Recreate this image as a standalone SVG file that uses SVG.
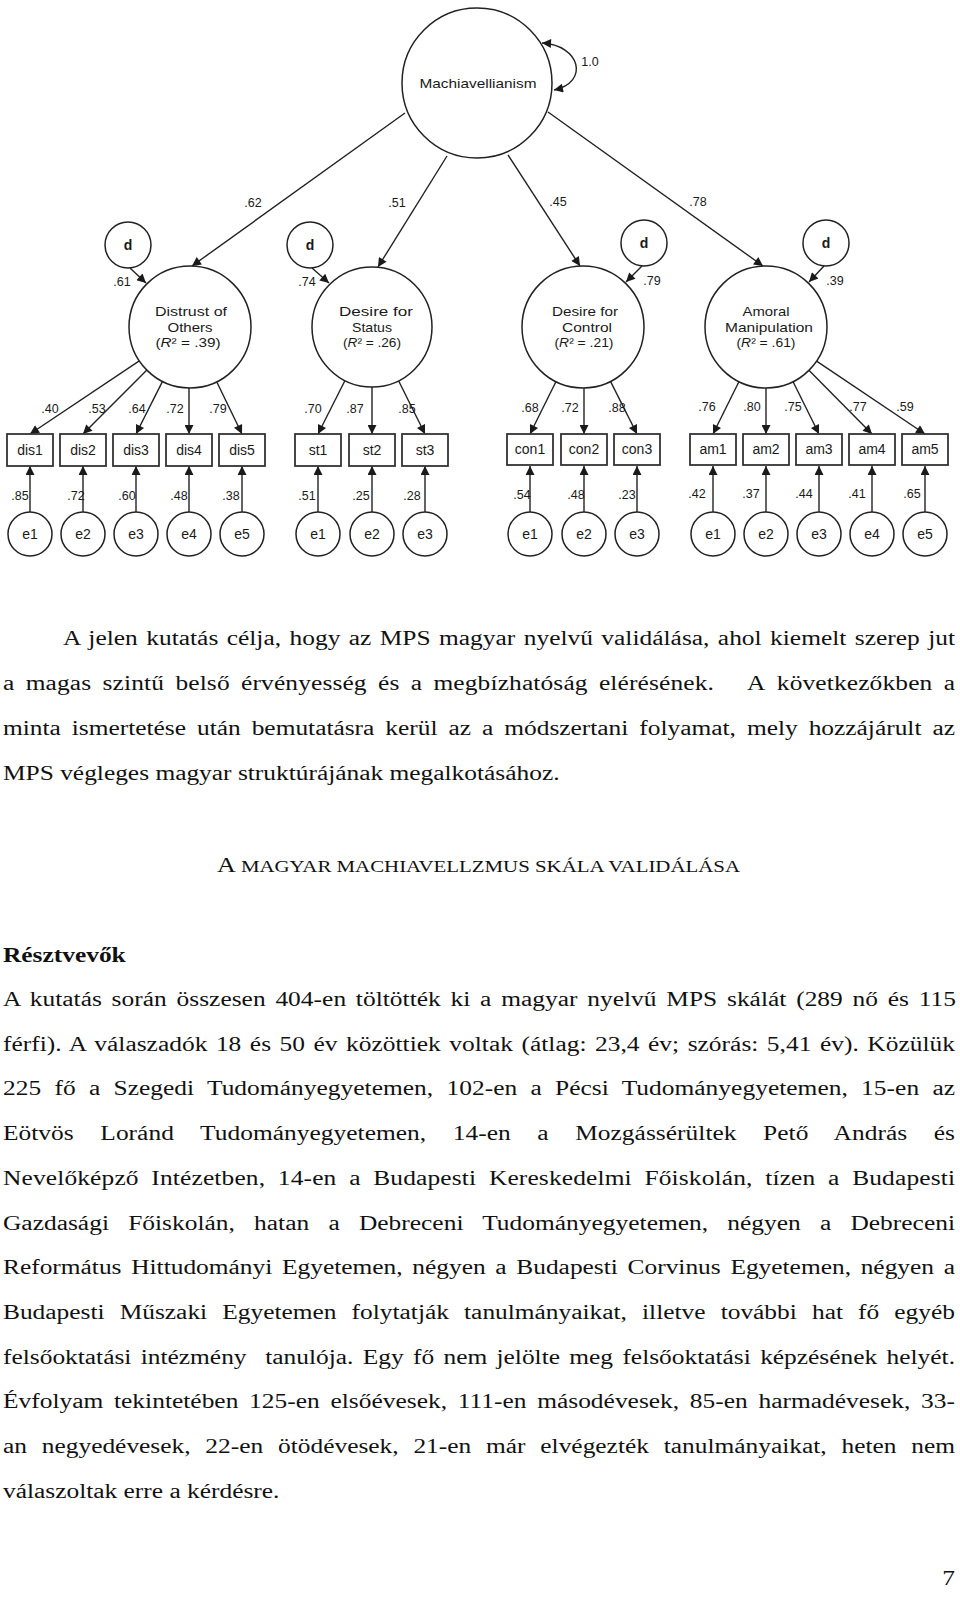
<svg xmlns="http://www.w3.org/2000/svg" width="960" height="1599" viewBox="0 0 960 1599">
<style>
.nd{fill:#fff;stroke:#222;stroke-width:1.5}
.bx{fill:#fff;stroke:#333;stroke-width:1.8}
.cn{fill:none;stroke:#222;stroke-width:1.4;marker-end:url(#ah)}
.lb{font-family:"Liberation Sans",Arial,sans-serif;fill:#1a1a1a;text-anchor:middle}
.big{font-size:13.5px}
.sm{font-size:14px}
.num{font-size:12.5px}
.t{font-family:"Liberation Serif","Times New Roman",serif;font-size:20px;fill:#111}
</style>
<defs>
<marker id="ah" viewBox="0 0 10 10" refX="10" refY="5" markerWidth="11" markerHeight="9" markerUnits="userSpaceOnUse" orient="auto-start-reverse">
<path d="M0,0 L10,5 L0,10 z" fill="#1a1a1a"/>
</marker>
</defs>
<rect width="960" height="1599" fill="#fff"/>

<g id="connectors">
<path class="cn" d="M542,43 C580,45 590,82 554,90" marker-start="url(#ah)"/>
<path class="cn" d="M405,113 L192,266"/>
<path class="cn" d="M447,156 L378,267"/>
<path class="cn" d="M508,155 L580,266"/>
<path class="cn" d="M548,112 L763,266"/>
<path class="cn" d="M130,268 L146,283"/>
<path class="cn" d="M312,268 L329,283"/>
<path class="cn" d="M642,266 L626,282"/>
<path class="cn" d="M824,266 L809,282"/>
<path class="cn" d="M139.3,360.9 L30,434"/>
<path class="cn" d="M146.9,370.1 L83,434"/>
<path class="cn" d="M162.5,381.4 L136,434"/>
<path class="cn" d="M189,388 L189,434"/>
<path class="cn" d="M216.7,381.8 L242,434"/>
<path class="cn" d="M345,380.5 L318,434"/>
<path class="cn" d="M372,387 L372,434"/>
<path class="cn" d="M398.6,380.8 L425,434"/>
<path class="cn" d="M555.9,381.7 L530,434"/>
<path class="cn" d="M584,388 L584,434"/>
<path class="cn" d="M610.5,381.4 L637,434"/>
<path class="cn" d="M738.9,381.7 L713,434"/>
<path class="cn" d="M766,388 L766,434"/>
<path class="cn" d="M793.1,381.7 L819,434"/>
<path class="cn" d="M808.9,370.3 L872,434"/>
<path class="cn" d="M816.6,361.1 L925,434"/>
<path class="cn" d="M30,512 L30,466"/>
<path class="cn" d="M83,512 L83,466"/>
<path class="cn" d="M136,512 L136,466"/>
<path class="cn" d="M189,512 L189,466"/>
<path class="cn" d="M242,512 L242,466"/>
<path class="cn" d="M318,512 L318,466"/>
<path class="cn" d="M372,512 L372,466"/>
<path class="cn" d="M425,512 L425,466"/>
<path class="cn" d="M530,512 L530,466"/>
<path class="cn" d="M584,512 L584,466"/>
<path class="cn" d="M637,512 L637,466"/>
<path class="cn" d="M713,512 L713,466"/>
<path class="cn" d="M766,512 L766,466"/>
<path class="cn" d="M819,512 L819,466"/>
<path class="cn" d="M872,512 L872,466"/>
<path class="cn" d="M925,512 L925,466"/>
</g>

<g id="coef" class="lb num">
<text x="590" y="66">1.0</text>
<text x="253" y="207">.62</text>
<text x="397" y="207">.51</text>
<text x="558" y="206">.45</text>
<text x="698" y="206">.78</text>
<text x="122" y="286">.61</text>
<text x="307" y="286">.74</text>
<text x="652" y="285">.79</text>
<text x="835" y="285">.39</text>
<text x="50" y="413">.40</text>
<text x="97" y="413">.53</text>
<text x="137" y="413">.64</text>
<text x="175" y="413">.72</text>
<text x="218" y="413">.79</text>
<text x="313" y="413">.70</text>
<text x="355" y="413">.87</text>
<text x="407" y="413">.85</text>
<text x="530" y="412">.68</text>
<text x="570" y="412">.72</text>
<text x="617" y="412">.88</text>
<text x="707" y="411">.76</text>
<text x="752" y="411">.80</text>
<text x="793" y="411">.75</text>
<text x="858" y="411">.77</text>
<text x="905" y="411">.59</text>
<text x="20" y="500">.85</text>
<text x="76" y="500">.72</text>
<text x="127" y="500">.60</text>
<text x="179" y="500">.48</text>
<text x="231" y="500">.38</text>
<text x="307" y="500">.51</text>
<text x="361" y="500">.25</text>
<text x="412" y="500">.28</text>
<text x="522" y="499">.54</text>
<text x="576" y="499">.48</text>
<text x="627" y="499">.23</text>
<text x="697" y="498">.42</text>
<text x="751" y="498">.37</text>
<text x="804" y="498">.44</text>
<text x="857" y="498">.41</text>
<text x="912" y="498">.65</text>
</g>

<g id="mach"><circle class="nd" cx="477" cy="83" r="75"/><text class="lb big" x="478" y="88" textLength="117" lengthAdjust="spacingAndGlyphs">Machiavellianism</text></g>

<g id="distrust"><circle class="nd" cx="190" cy="327" r="61"/>
<text class="lb big" x="191" y="316" textLength="72" lengthAdjust="spacingAndGlyphs">Distrust of</text>
<text class="lb big" x="190" y="332" textLength="45" lengthAdjust="spacingAndGlyphs">Others</text>
<text class="lb big" x="188" y="347" textLength="65" lengthAdjust="spacingAndGlyphs">(<tspan font-style="italic">R</tspan>² = .39)</text></g>
<g id="status"><circle class="nd" cx="372" cy="327" r="60"/>
<text class="lb big" x="376" y="316" textLength="74" lengthAdjust="spacingAndGlyphs">Desire for</text>
<text class="lb big" x="372" y="332" textLength="40" lengthAdjust="spacingAndGlyphs">Status</text>
<text class="lb big" x="372" y="347" textLength="58" lengthAdjust="spacingAndGlyphs">(<tspan font-style="italic">R</tspan>² = .26)</text></g>
<g id="control"><circle class="nd" cx="583" cy="327" r="61"/>
<text class="lb big" x="585" y="316" textLength="66" lengthAdjust="spacingAndGlyphs">Desire for</text>
<text class="lb big" x="587" y="332" textLength="50" lengthAdjust="spacingAndGlyphs">Control</text>
<text class="lb big" x="584" y="347" textLength="59" lengthAdjust="spacingAndGlyphs">(<tspan font-style="italic">R</tspan>² = .21)</text></g>
<g id="amoral"><circle class="nd" cx="766" cy="327" r="61"/>
<text class="lb big" x="766" y="316" textLength="47" lengthAdjust="spacingAndGlyphs">Amoral</text>
<text class="lb big" x="769" y="332" textLength="88" lengthAdjust="spacingAndGlyphs">Manipulation</text>
<text class="lb big" x="766" y="347" textLength="59" lengthAdjust="spacingAndGlyphs">(<tspan font-style="italic">R</tspan>² = .61)</text></g>

<g id="d1"><circle class="nd" cx="128" cy="245" r="23"/><text class="lb sm" x="128" y="250" font-weight="bold">d</text></g>
<g id="d2"><circle class="nd" cx="310" cy="245" r="23"/><text class="lb sm" x="310" y="250" font-weight="bold">d</text></g>
<g id="d3"><circle class="nd" cx="644" cy="243" r="23"/><text class="lb sm" x="644" y="248" font-weight="bold">d</text></g>
<g id="d4"><circle class="nd" cx="826" cy="243" r="23"/><text class="lb sm" x="826" y="248" font-weight="bold">d</text></g>

<g id="dis1"><rect class="bx" x="7" y="434" width="46" height="32"/><text class="lb sm" x="30" y="455">dis1</text></g>
<g id="dis2"><rect class="bx" x="60" y="434" width="46" height="32"/><text class="lb sm" x="83" y="455">dis2</text></g>
<g id="dis3"><rect class="bx" x="113" y="434" width="46" height="32"/><text class="lb sm" x="136" y="455">dis3</text></g>
<g id="dis4"><rect class="bx" x="166" y="434" width="46" height="32"/><text class="lb sm" x="189" y="455">dis4</text></g>
<g id="dis5"><rect class="bx" x="219" y="434" width="46" height="32"/><text class="lb sm" x="242" y="455">dis5</text></g>
<g id="st1"><rect class="bx" x="295" y="434" width="46" height="32"/><text class="lb sm" x="318" y="455">st1</text></g>
<g id="st2"><rect class="bx" x="349" y="434" width="46" height="32"/><text class="lb sm" x="372" y="455">st2</text></g>
<g id="st3"><rect class="bx" x="402" y="434" width="46" height="32"/><text class="lb sm" x="425" y="455">st3</text></g>
<g id="con1"><rect class="bx" x="507" y="434" width="46" height="31"/><text class="lb sm" x="530" y="454">con1</text></g>
<g id="con2"><rect class="bx" x="561" y="434" width="46" height="31"/><text class="lb sm" x="584" y="454">con2</text></g>
<g id="con3"><rect class="bx" x="614" y="434" width="46" height="31"/><text class="lb sm" x="637" y="454">con3</text></g>
<g id="am1"><rect class="bx" x="690" y="434" width="46" height="31"/><text class="lb sm" x="713" y="454">am1</text></g>
<g id="am2"><rect class="bx" x="743" y="434" width="46" height="31"/><text class="lb sm" x="766" y="454">am2</text></g>
<g id="am3"><rect class="bx" x="796" y="434" width="46" height="31"/><text class="lb sm" x="819" y="454">am3</text></g>
<g id="am4"><rect class="bx" x="849" y="434" width="46" height="31"/><text class="lb sm" x="872" y="454">am4</text></g>
<g id="am5"><rect class="bx" x="902" y="434" width="46" height="31"/><text class="lb sm" x="925" y="454">am5</text></g>

<g id="e_dis1"><circle class="nd" cx="30" cy="534" r="22"/><text class="lb sm" x="30" y="539">e1</text></g>
<g id="e_dis2"><circle class="nd" cx="83" cy="534" r="22"/><text class="lb sm" x="83" y="539">e2</text></g>
<g id="e_dis3"><circle class="nd" cx="136" cy="534" r="22"/><text class="lb sm" x="136" y="539">e3</text></g>
<g id="e_dis4"><circle class="nd" cx="189" cy="534" r="22"/><text class="lb sm" x="189" y="539">e4</text></g>
<g id="e_dis5"><circle class="nd" cx="242" cy="534" r="22"/><text class="lb sm" x="242" y="539">e5</text></g>
<g id="e_st1"><circle class="nd" cx="318" cy="534" r="22"/><text class="lb sm" x="318" y="539">e1</text></g>
<g id="e_st2"><circle class="nd" cx="372" cy="534" r="22"/><text class="lb sm" x="372" y="539">e2</text></g>
<g id="e_st3"><circle class="nd" cx="425" cy="534" r="22"/><text class="lb sm" x="425" y="539">e3</text></g>
<g id="e_con1"><circle class="nd" cx="530" cy="534" r="22"/><text class="lb sm" x="530" y="539">e1</text></g>
<g id="e_con2"><circle class="nd" cx="584" cy="534" r="22"/><text class="lb sm" x="584" y="539">e2</text></g>
<g id="e_con3"><circle class="nd" cx="637" cy="534" r="22"/><text class="lb sm" x="637" y="539">e3</text></g>
<g id="e_am1"><circle class="nd" cx="713" cy="534" r="22"/><text class="lb sm" x="713" y="539">e1</text></g>
<g id="e_am2"><circle class="nd" cx="766" cy="534" r="22"/><text class="lb sm" x="766" y="539">e2</text></g>
<g id="e_am3"><circle class="nd" cx="819" cy="534" r="22"/><text class="lb sm" x="819" y="539">e3</text></g>
<g id="e_am4"><circle class="nd" cx="872" cy="534" r="22"/><text class="lb sm" x="872" y="539">e4</text></g>
<g id="e_am5"><circle class="nd" cx="925" cy="534" r="22"/><text class="lb sm" x="925" y="539">e5</text></g>

<text class="t" x="217" y="872" textLength="523" lengthAdjust="spacingAndGlyphs">A <tspan font-size="16px">MAGYAR MACHIAVELLZMUS SKÁLA VALIDÁLÁSA</tspan></text>

<g id="bodytext" class="t" transform="scale(1.27,1)">
<text x="49.6" y="645" word-spacing="1.6" textLength="702.4" lengthAdjust="spacing">A jelen kutatás célja, hogy az MPS magyar nyelvű validálása, ahol kiemelt szerep jut</text>
<text x="2.36" y="690" word-spacing="3.78" textLength="749.6" lengthAdjust="spacing">a magas szintű belső érvényesség és a megbízhatóság elérésének.<tspan dx="26">A</tspan> következőkben a</text>
<text x="2.36" y="735" word-spacing="3.65" textLength="749.6" lengthAdjust="spacing">minta ismertetése után bemutatásra kerül az a módszertani folyamat, mely hozzájárult az</text>
<text x="2.36" y="780">MPS végleges magyar struktúrájának megalkotásához.</text>
<text x="2.36" y="962" font-weight="bold">Résztvevők</text>
<text x="2.36" y="1006" word-spacing="2.66" textLength="750.4" lengthAdjust="spacing">A kutatás során összesen 404-en töltötték ki a magyar nyelvű MPS skálát (289 nő és 115</text>
<text x="2.36" y="1051" word-spacing="1.65" textLength="749.6" lengthAdjust="spacing">férfi). A válaszadók 18 és 50 év közöttiek voltak (átlag: 23,4 év; szórás: 5,41 év). Közülük</text>
<text x="2.36" y="1095" word-spacing="5.4" textLength="749.6" lengthAdjust="spacing">225 fő a Szegedi Tudományegyetemen, 102-en a Pécsi Tudományegyetemen, 15-en az</text>
<text x="2.36" y="1140" word-spacing="15.9" textLength="749.6" lengthAdjust="spacing">Eötvös Loránd Tudományegyetemen, 14-en a Mozgássérültek Pető András és</text>
<text x="2.36" y="1185" word-spacing="4.86" textLength="749.6" lengthAdjust="spacing">Nevelőképző Intézetben, 14-en a Budapesti Kereskedelmi Főiskolán, tízen a Budapesti</text>
<text x="2.36" y="1230" word-spacing="10.1" textLength="749.6" lengthAdjust="spacing">Gazdasági Főiskolán, hatan a Debreceni Tudományegyetemen, négyen a Debreceni</text>
<text x="2.36" y="1274" word-spacing="2.62" textLength="749.6" lengthAdjust="spacing">Református Hittudományi Egyetemen, négyen a Budapesti Corvinus Egyetemen, négyen a</text>
<text x="2.36" y="1319" word-spacing="6.88" textLength="749.6" lengthAdjust="spacing">Budapesti Műszaki Egyetemen folytatják tanulmányaikat, illetve további hat fő egyéb</text>
<text x="2.36" y="1364" word-spacing="2.35" textLength="749.6" lengthAdjust="spacing">felsőoktatási intézmény&#160; tanulója. Egy fő nem jelölte meg felsőoktatási képzésének helyét.</text>
<text x="2.36" y="1408" word-spacing="3.38" textLength="749.6" lengthAdjust="spacing">Évfolyam tekintetében 125-en elsőévesek, 111-en másodévesek, 85-en harmadévesek, 33-</text>
<text x="2.36" y="1453" word-spacing="6.64" textLength="749.6" lengthAdjust="spacing">an negyedévesek, 22-en ötödévesek, 21-en már elvégezték tanulmányaikat, heten nem</text>
<text x="2.36" y="1498">válaszoltak erre a kérdésre.</text>
<text x="752" y="1585" text-anchor="end">7</text>
</g>
</svg>
